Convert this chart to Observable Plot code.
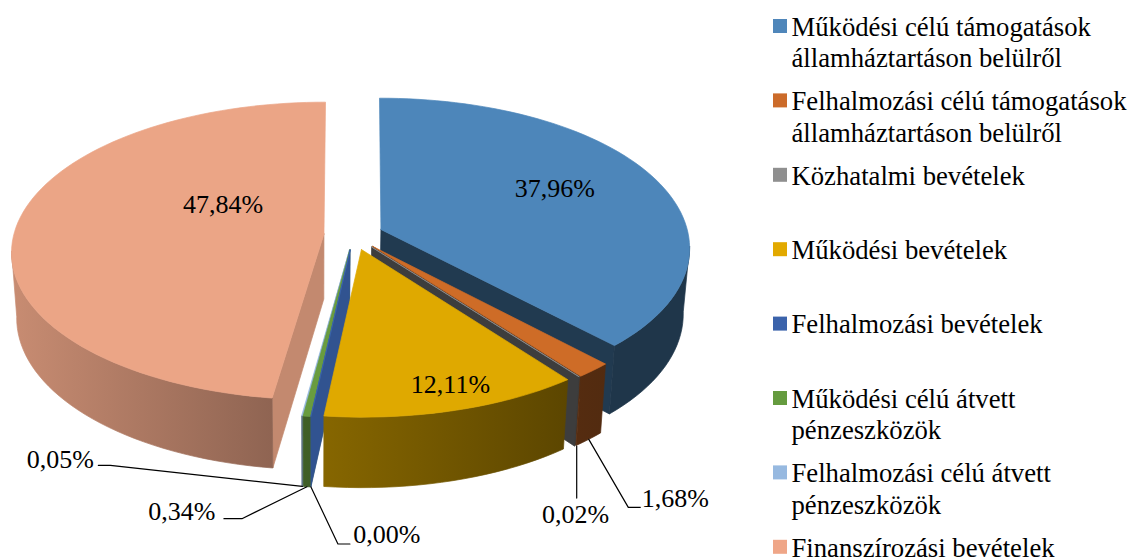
<!DOCTYPE html>
<html>
<head>
<meta charset="utf-8">
<script src="https://cdn.jsdelivr.net/npm/d3@7"></script>
<script src="https://cdn.jsdelivr.net/npm/@observablehq/plot@0.6"></script>
<style>
html,body{margin:0;padding:0;background:#fff;}
svg{display:block;font-family:"Liberation Serif",serif;}
</style>
</head>
<body>
<div id="chart"></div>
<script>
// --- data ---
const categories = [
  "Működési célú támogatások\nállamháztartáson belülről",
  "Felhalmozási célú támogatások\nállamháztartáson belülről",
  "Közhatalmi bevételek",
  "Működési bevételek",
  "Felhalmozási bevételek",
  "Működési célú átvett\npénzeszközök",
  "Felhalmozási célú átvett\npénzeszközök",
  "Finanszírozási bevételek"
];
const shares = [37.96, 1.68, 0.02, 12.11, 0.00, 0.34, 0.05, 47.84];
const shareLabels = ["37,96%", "1,68%", "0,02%", "12,11%", "0,00%", "0,34%", "0,05%", "47,84%"];

// --- styles ---
const legendColors = ["#4F86BA", "#CC6B2A", "#8F8F8F", "#E2A900", "#3B63AB", "#659B3F", "#97B9E0", "#EFA688"];
const topColors = ["#4D86BA", "#CE6C27", "#8F8F8F", "#DFA900", "#3B64AD", "#699C3F", "#97B9E0", "#EBA586"];
const paintOrder = [0, 1, 2, 7, 6, 5, 4, 3];

// --- 3D pie projection settings ---
const W = 1131, H = 557;
const CX = 353, CY = 234.5, RX = 310, RY = 147, PERSP = 0.114, EXPLODE = 0.09, NEAR_X = 0.055, NEAR_Y = 0.13, RIGHT_SQUEEZE = 0.012;
const DEPTH = 65, DEPTH_GROW = 0.03, DEPTH_BASE_Y = 233, VANISH_X = 315, VANISH_RATE = 0.017;

const arcs = d3.pie().sort(null).value(d => d).startAngle(0).endAngle(2 * Math.PI)(shares);
const midOf = s => (s.startAngle + s.endAngle) / 2;

function homog(u, v) {
  const w = 1 - PERSP * v;
  return [RX * u / w, RY * v / w];
}
function topPoint(s, angle, r) {
  const m = midOf(s);
  const [ex, ey] = homog(EXPLODE * Math.sin(m) * (312 / RX), -EXPLODE * Math.cos(m));
  const u = r * Math.sin(angle), v = -r * Math.cos(angle);
  let [x, y] = homog(u, v);
  if (u > 0) x *= 1 - RIGHT_SQUEEZE * (1 - v * v);
  return [CX + x + ex * (1 + NEAR_X * (1 + v) * (1 + v)), CY + y + ey * (1 + NEAR_Y * (1 + v))];
}
function lower([x, y]) {
  return [x - (x - VANISH_X) * VANISH_RATE, y + DEPTH + (y - DEPTH_BASE_Y) * DEPTH_GROW];
}
const outerShade = d3.scaleLinear().domain([140, 188, 270]).range([0.40, 0.61, 0.87]).clamp(true);
const shade = (c, f) => { const o = d3.rgb(c); return d3.rgb(o.r * f, o.g * f, o.b * f).formatHex(); };

const polys = [];
const gradients = [];
let pid = 0;
function addPoly(pts, fill) {
  const id = pid++;
  for (const [x, y] of [...pts, pts[0]]) polys.push({id, x, y, fill});
}
// the rim is visible between the two silhouette tangents of the projected disc
const VIS_FROM = Math.PI / 2 + Math.asin(PERSP), VIS_TO = Math.PI * 1.5 - Math.asin(PERSP);
for (const i of paintOrder) {
  const s = arcs[i], col = topColors[i];
  const a0 = s.startAngle, a1 = s.endAngle;
  const apex = topPoint(s, a0, 0);
  const p0 = topPoint(s, a0, 1), p1 = topPoint(s, a1, 1);
  // cut walls that face the viewer
  if (a0 > Math.PI) addPoly([apex, p0, lower(p0), lower(apex)], shade(col, 0.83));
  if (a1 < Math.PI) addPoly([apex, p1, lower(p1), lower(apex)], shade(col, 0.43));
  const n = Math.max(1, Math.ceil((a1 - a0) / (Math.PI / 90)));
  const angs = d3.range(n + 1).map(j => a0 + (a1 - a0) * j / n);
  // rim: a single band with a left-to-right gradient
  const lo = Math.max(a0, VIS_FROM), hi = Math.min(a1, VIS_TO);
  if (hi > lo) {
    const band = angs.filter(a => a >= lo && a <= hi);
    const pts = [lo, ...band, hi].map(a => topPoint(s, a, 1));
    const gid = "rim" + i;
    gradients.push({gid, right: shade(col, outerShade(lo * 180 / Math.PI)), left: shade(col, outerShade(hi * 180 / Math.PI))});
    addPoly([...pts, ...pts.slice().reverse().map(lower)], `url(#${gid})`);
  }
  // top face
  addPoly([apex, ...angs.map(a => topPoint(s, a, 1))], col);
}
const defsMark = () => {
  const defs = d3.create("svg:defs");
  for (const g of gradients) {
    const lg = defs.append("linearGradient").attr("id", g.gid).attr("x1", 0).attr("x2", 1).attr("y1", 0).attr("y2", 0);
    lg.append("stop").attr("offset", 0).attr("stop-color", g.left);
    lg.append("stop").attr("offset", 1).attr("stop-color", g.right);
  }
  return defs.node();
};

// --- labels ---
const insideLabels = [0, 3, 7];
const insideOffset = {0: [174, -41], 3: [89, 135], 7: [-101, -29]};
const labelRows = [];
for (const i of insideLabels) {
  const a = topPoint(arcs[i], 0, 0);
  labelRows.push({t: shareLabels[i], x: a[0] + insideOffset[i][0], y: a[1] + insideOffset[i][1]});
}
// callouts: [start offset, elbow offset, end offset, text offset] from the slice's rim foot
const callouts = {
  1: [[0, 0], [39.5, 68], [51.5, 68], [86.5, 59]],
  2: [[2, 0], [2, 29], [2, 52], [1, 69]],
  4: [[0, 0], [27, 57], [39, 57], [76, 48]],
  5: [[0, 0], [-65, 32], [-83, 32], [-125, 25]],
  6: [[0, 0], [-192, -21], [-204, -21], [-242, -27]]
};
const leaders = [];
for (const i of Object.keys(callouts)) {
  const s = arcs[i];
  const foot = lower(topPoint(s, midOf(s), 1));
  const [b, e, t, l] = callouts[i];
  for (const o of [b, e, t]) leaders.push({i, x: foot[0] + o[0], y: foot[1] + o[1]});
  labelRows.push({t: shareLabels[i], x: foot[0] + l[0], y: foot[1] + l[1]});
}

// --- legend ---
const LEG_TOP = 26, LEG_STEP = 74.4;
const legend = categories.map((c, i) => ({c, col: legendColors[i], yc: LEG_TOP + i * LEG_STEP}));
const FONT = 26, LEGEND_FONT = 26.7;

const chart = Plot.plot({
  width: W, height: H,
  margin: 0,
  x: {domain: [0, W], range: [0, W], axis: null},
  y: {domain: [0, H], range: [0, H], axis: null},
  color: {type: "identity"},
  marks: [
    defsMark,
    Plot.line(polys, {x: "x", y: "y", z: "id", fill: "fill", stroke: "fill", strokeWidth: 0.7, curve: "linear"}),
    Plot.line(leaders, {x: "x", y: "y", z: "i", stroke: "#000", strokeWidth: 1.2, curve: "linear"}),
    Plot.text(labelRows, {x: "x", y: "y", text: "t", fontSize: FONT, fill: "#000", textAnchor: "middle", lineAnchor: "middle"}),
    Plot.rect(legend, {x1: () => 773, x2: () => 787, y1: d => d.yc - 7, y2: d => d.yc + 7, fill: "col"}),
    Plot.text(legend, {x: () => 791, y: d => d.yc - 13, text: "c", fontSize: LEGEND_FONT, fill: "#000", textAnchor: "start", lineAnchor: "top", lineHeight: 1.18})
  ]
});
document.getElementById("chart").appendChild(chart);
</script>
</body>
</html>
